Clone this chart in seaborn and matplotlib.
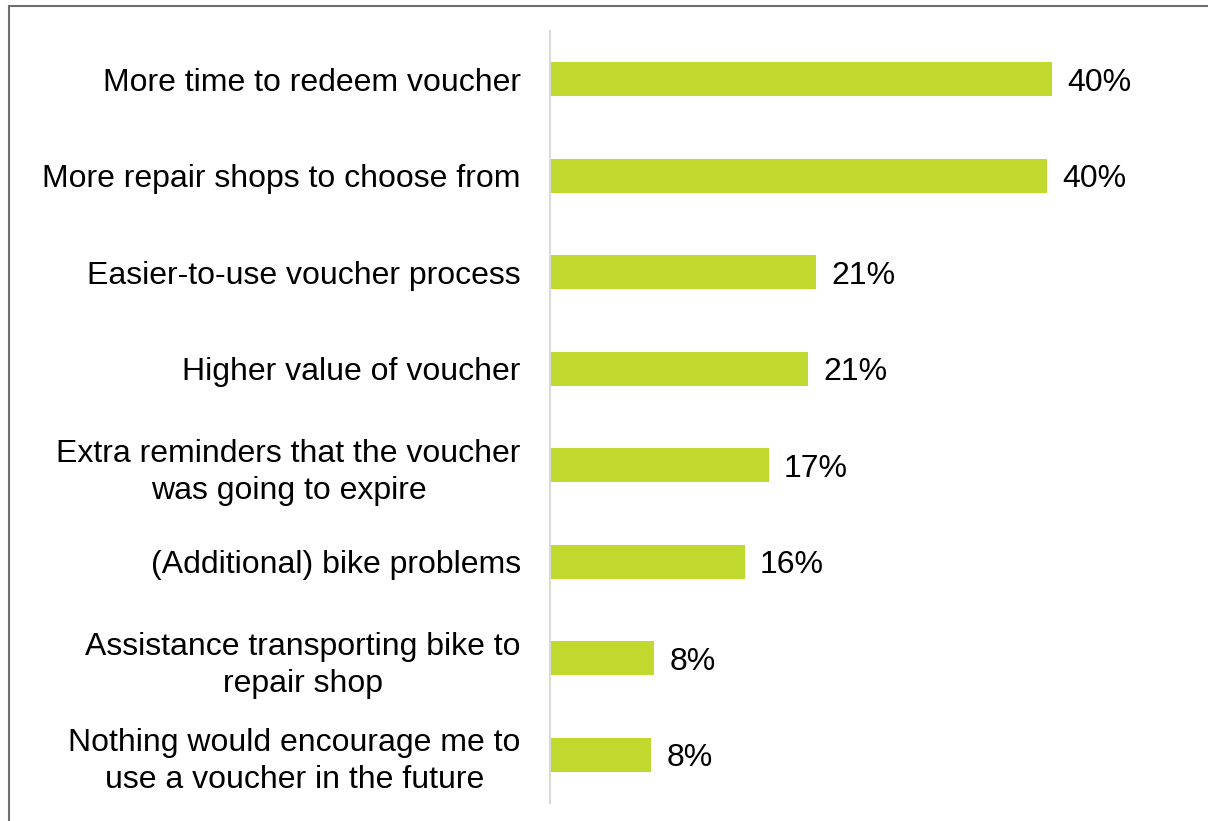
import matplotlib
matplotlib.use("Agg")
import matplotlib.pyplot as plt
import matplotlib.patches as mpatches
import seaborn as sns
import pandas as pd

categories = [
    "More time to redeem voucher",
    "More repair shops to choose from",
    "Easier-to-use voucher process",
    "Higher value of voucher",
    "Extra reminders that the voucher\nwas going to expire",
    "(Additional) bike problems",
    "Assistance transporting bike to\nrepair shop",
    "Nothing would encourage me to\nuse a voucher in the future",
]
shares = [40.1, 39.7, 21.2, 20.6, 17.45, 15.55, 8.3, 8.1]

df = pd.DataFrame({"reason": categories, "share": shares})

sns.set_theme(style="white")
plt.rcParams["font.family"] = ["Liberation Sans", "DejaVu Sans"]

bar_color = "#C1D82F"
W, H = 1208, 821
fig = plt.figure(figsize=(W / 100, H / 100), dpi=100)
ax = fig.add_axes([550 / W, 1 - 803 / H, 626.5 / W, (803 - 31) / H])

sns.barplot(data=df, x="share", y="reason", order=categories, color=bar_color,
            width=0.35, saturation=1, ax=ax, edgecolor="none")

ax.set_xlim(0, 50)
ax.set_ylim(len(categories) - 0.5, -0.5)
ax.set_xlabel("")
ax.set_ylabel("")
ax.set_xticks([])

for side in ("top", "right", "bottom"):
    ax.spines[side].set_visible(False)
ax.spines["left"].set_color("#D9D9D9")
ax.spines["left"].set_linewidth(1.5)

ax.tick_params(axis="y", length=0, pad=21, labelsize=23, labelcolor="black")
for lab in ax.get_yticklabels():
    lab.set_multialignment("center")
    lab.set_linespacing(1.3)

for i, v in enumerate(shares):
    ax.annotate(f"{round(v):.0f}%", xy=(v, i), xytext=(11, 0),
                textcoords="offset points", ha="left", va="center_baseline",
                fontsize=23, color="black")

# outer frame running off the right and bottom edges
frame = mpatches.Rectangle((9 / W, -0.1), 1.2, 1 - 6.5 / H + 0.1,
                           transform=fig.transFigure, fill=False,
                           edgecolor="#6E6E6E", linewidth=1.5, clip_on=False)
fig.patches.append(frame)

fig.savefig("out.png", dpi=100, facecolor="white")
